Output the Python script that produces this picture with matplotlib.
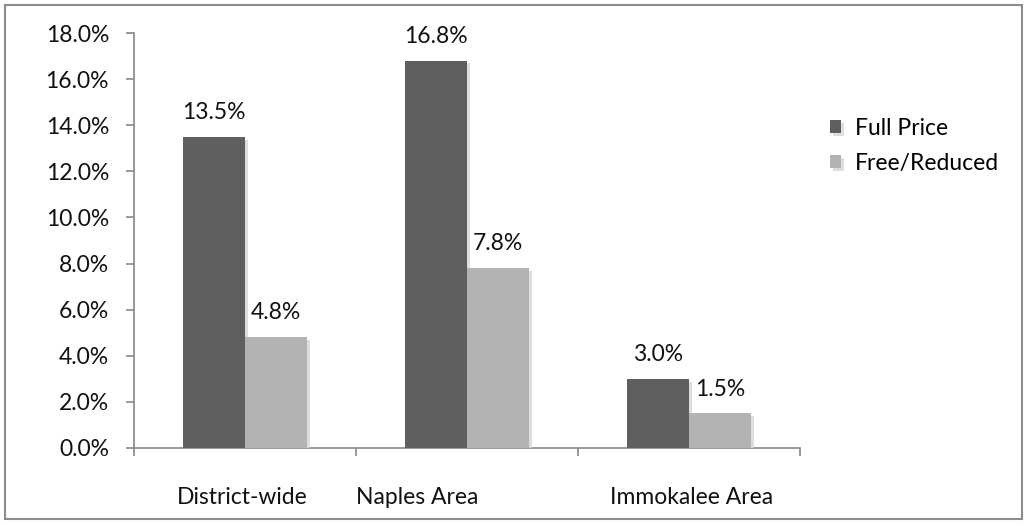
import matplotlib
matplotlib.use("Agg")
import matplotlib.pyplot as plt
import matplotlib.patheffects as pe
import matplotlib.transforms as mtransforms
import numpy as np

categories = ["District-wide", "Naples Area", "Immokalee Area"]
series_names = ["Full Price", "Free/Reduced"]
full_price = [13.5, 16.8, 3.0]
free_reduced = [4.8, 7.8, 1.5]
yticks = [0, 2, 4, 6, 8, 10, 12, 14, 16, 18]

colors = ["#5f5f5f", "#b3b3b3"]
plt.rcParams['font.family'] = ['Lato', 'DejaVu Sans']
FS = 16.5

fig = plt.figure(figsize=(10.29, 5.25), dpi=100)
ax = fig.add_axes([134/1029, 1-448/525, (800-134)/1029, (448-33)/525])

x = np.arange(len(categories)) + 0.5
w = 62/222
shadow = [pe.SimplePatchShadow(offset=(2, -2), shadow_rgbFace="#d6d6d6", alpha=0.8), pe.Normal()]
for i, (vals, c) in enumerate(zip([full_price, free_reduced], colors)):
    xs = x + (i - 0.5) * w
    bars = ax.bar(xs, vals, width=w, color=c, label=series_names[i], zorder=3)
    for b in bars:
        b.set_path_effects(shadow)
    for xx, v in zip(xs, vals):
        ax.annotate(f"{v:.1f}%", (xx, v), xytext=(0, 10), textcoords="offset points",
                    ha="center", va="bottom", fontsize=FS, color="#111111")

ax.set_xlim(0, len(categories))
ax.set_ylim(0, 18)
ax.set_yticks(yticks)
ax.set_yticklabels([f"{t:.1f}%" for t in yticks])
ax.set_xticks(np.arange(len(categories) + 1))
ax.set_xticklabels([])
ax.set_xticks(x, minor=True)
ax.set_xticklabels(categories, minor=True)
ax.tick_params(axis="x", which="minor", length=0, pad=28, labelsize=FS, labelcolor="#111111")
ax.tick_params(axis="x", which="major", length=6, width=1.2, color="#888888", direction="out")
ax.tick_params(axis="y", length=6, width=1.2, color="#888888", labelsize=FS, labelcolor="#111111", pad=12)

label_shift_px = [-3, -50, 3]
for lab, dx in zip(ax.get_xticklabels(minor=True), label_shift_px):
    lab.set_transform(lab.get_transform() + mtransforms.Affine2D().translate(dx, 0))

for s in ["top", "right"]:
    ax.spines[s].set_visible(False)
for s in ["left", "bottom"]:
    ax.spines[s].set_color("#888888")
    ax.spines[s].set_linewidth(1.2)

leg = ax.legend(loc="upper left", bbox_to_anchor=(830/1029, 1-118/525), bbox_transform=fig.transFigure,
                frameon=False, fontsize=FS, handlelength=0.5, handleheight=0.5, handletextpad=0.6,
                labelspacing=0.6, borderaxespad=0, borderpad=0)

fig.patches.append(plt.Rectangle((5/1029, 6/525), 1017/1029, 514/525, transform=fig.transFigure,
                                 fill=False, edgecolor="#8c8c8c", linewidth=1.5))

fig.savefig("out.png", dpi=100)
